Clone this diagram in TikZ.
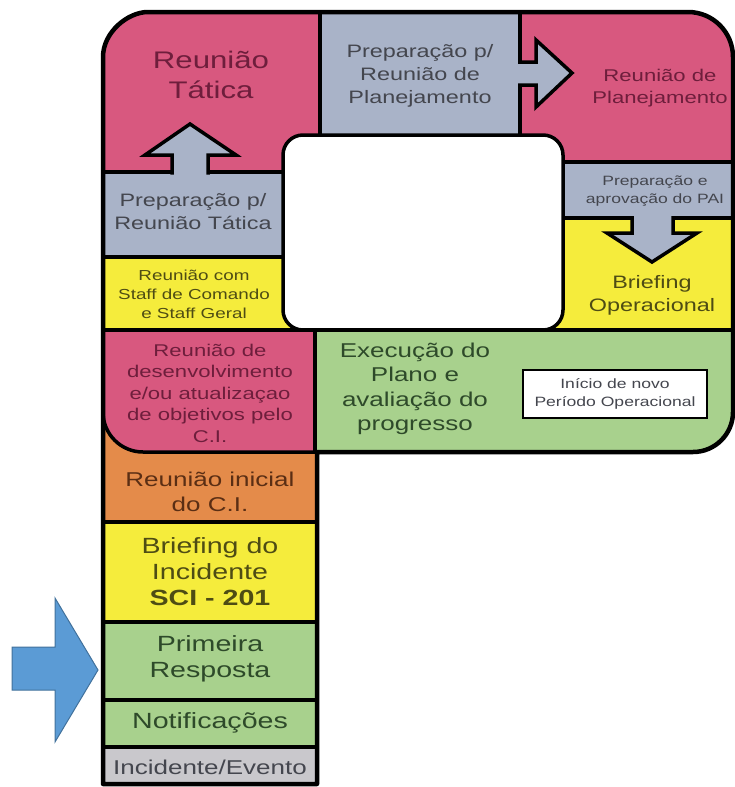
\documentclass[tikz,border=0pt]{standalone}
\usepackage{fontspec}
\setmainfont{Liberation Sans}[FakeStretch=1.3]
\definecolor{rosa}{HTML}{D8587F}
\definecolor{cinzaazul}{HTML}{A9B3C8}
\definecolor{amarelo}{HTML}{F5EC3C}
\definecolor{verde}{HTML}{A8D18D}
\definecolor{laranja}{HTML}{E48B4A}
\definecolor{cinza}{HTML}{C9C8CC}
\definecolor{azul}{HTML}{5B9BD5}
\definecolor{azulborda}{HTML}{41719C}
\definecolor{trosa}{HTML}{6E1E3C}
\definecolor{tcinza}{HTML}{44464E}
\definecolor{tamarelo}{HTML}{4E4C14}
\definecolor{tverde}{HTML}{2E4A2A}
\definecolor{tlaranja}{HTML}{5A2E14}
\begin{document}
\begin{tikzpicture}[x=1pt,y=-1pt,
  divider/.style={draw=black, line width=3.5pt},
  outline/.style={draw=black, line width=4.5pt, line join=round},
  blockarrow/.style={fill=cinzaazul, draw=black, line width=3.5pt, line join=miter},
  txt/.style={align=center, inner sep=0pt},
  f13/.style={font=\fontsize{13.5}{18}\selectfont},
  f14/.style={font=\fontsize{14.5}{19}\selectfont},
  f17/.style={font=\fontsize{17}{21.5}\selectfont},
  f18/.style={font=\fontsize{18}{23}\selectfont},
  f20/.style={font=\fontsize{20}{24.5}\selectfont},
  f22/.style={font=\fontsize{22}{26}\selectfont},
  f24/.style={font=\fontsize{24}{30}\selectfont}]
\useasboundingbox (0,0) rectangle (735,787);

% outer P-shaped outline
\def\outerpath{(103,784) -- (103,57) .. controls (103,32.1) and (127.9,12) .. (148,12)
  -- (688,12) .. controls (712.9,12) and (733,32.1) .. (733,57)
  -- (733,412) .. controls (733,434.1) and (715.1,452) .. (693,452)
  -- (317,452) -- (317,784) -- cycle}

\begin{scope}
  \clip \outerpath;
  % coloured panels
  \fill[rosa]      (100,8)   rectangle (320,172);
  \fill[cinzaazul] (320,8)   rectangle (520,135);
  \fill[rosa]      (520,8)   rectangle (738,162);
  \fill[cinzaazul] (100,172) rectangle (283,257);
  \fill[cinzaazul] (563,162) rectangle (738,218);
  \fill[amarelo]   (100,257) rectangle (305,330);
  \fill[amarelo]   (545,218) rectangle (738,330);
  \fill[verde]     (315,330) rectangle (738,456);
  \fill[laranja]   (100,400) rectangle (317,522);
  \fill[rosa] (100,330) -- (315,330) -- (315,452) -- (143,452)
     .. controls (120.9,452) and (103,434.1) .. (103,412) -- (100,412) -- cycle;
  \fill[amarelo]   (100,522) rectangle (317,622);
  \fill[verde]     (100,622) rectangle (317,700);
  \fill[verde]     (100,700) rectangle (317,747);
  \fill[cinza]     (100,747) rectangle (317,790);
  % central white area
  \fill[white, rounded corners=20pt] (283,135) rectangle (563,330);

  % dividers
  \draw[divider] (320,12) -- (320,135);
  \draw[divider] (520,12) -- (520,135);
  \draw[divider] (103,172) -- (283,172);
  \draw[divider] (563,162) -- (733,162);
  \draw[divider] (103,257) -- (283,257);
  \draw[divider] (563,218) -- (733,218);
  \draw[divider] (103,330) -- (733,330);
  \draw[divider] (315,330) -- (315,452);
  \draw[divider] (317,452) -- (143,452) .. controls (120.9,452) and (103,434.1) .. (103,412);
  \draw[divider] (103,522) -- (317,522);
  \draw[divider] (103,622) -- (317,622);
  \draw[divider] (103,700) -- (317,700);
  \draw[divider] (103,747) -- (317,747);
\end{scope}

% block arrows between the stages
\filldraw[blockarrow] (172,174.5) -- (172,155) -- (145,155) -- (190,124)
  -- (236,155) -- (208,155) -- (208,174.5);
\filldraw[blockarrow] (518,62) -- (536,62) -- (536,40) -- (572,73)
  -- (536,107) -- (536,85) -- (518,85);
\filldraw[blockarrow] (632,216) -- (632,233) -- (607,233) -- (652,262)
  -- (697,233) -- (673,233) -- (673,216);

% outline of the central white area
\draw[divider, rounded corners=20pt] (283,135) rectangle (563,330);

% outer border
\draw[outline] \outerpath;

% blue pointer
\filldraw[fill=azul, draw=azulborda, line width=1pt, line join=miter]
  (12,647) -- (55,647) -- (55,598) -- (98,670) -- (55,742) -- (55,690) -- (12,690) -- cycle;

% labels
\node[txt, f24, text=trosa] (tatica) at (211,75) {Reunião\\Tática};
\node[txt, f18, text=tcinza] (prepplan) at (420,76) {Preparação p/\\Reunião de\\Planejamento};
\node[txt, f17, text=trosa] (planej) at (660,88) {Reunião de\\Planejamento};
\node[txt, f18, text=tcinza] (preptat) at (193,212) {Preparação p/\\Reunião Tática};
\node[txt, f14, text=tamarelo] (staff) at (194,294) {Reunião com\\Staff de Comando\\e Staff Geral};
\node[txt, f17, text=trosa] (desenv) at (210,393) {Reunião de\\desenvolvimento\\e/ou atualizaçao\\de objetivos pelo\\C.I.};
\node[txt, f13, text=tcinza] (pai) at (655,191) {Preparação e\\aprovação do PAI};
\node[txt, f18, text=tamarelo] (brop) at (652,295) {Briefing\\Operacional};
\node[txt, f20, text=tverde] (exec) at (415,389) {Execução do\\Plano e\\avaliação do\\progresso};
\node[draw=black, line width=2.5pt, fill=white, minimum width=184pt, minimum height=48pt,
  align=center, f13, text=tcinza] (inicio) at (615,394) {Início de novo\\Período Operacional};
\node[txt, f20, text=tlaranja] (inicial) at (210,492) {Reunião inicial\\do C.I.};
\node[txt, f22, text=tamarelo] (brinc) at (210,572) {Briefing do\\Incidente\\\textbf{SCI - 201}};
\node[txt, f22, text=tverde] (primeira) at (210,659) {Primeira\\Resposta};
\node[txt, f22, text=tverde] (notif) at (210,723) {Notificações};
\node[txt, f20, text=tcinza] (evento) at (210,767) {Incidente/Evento};
\end{tikzpicture}
\end{document}
